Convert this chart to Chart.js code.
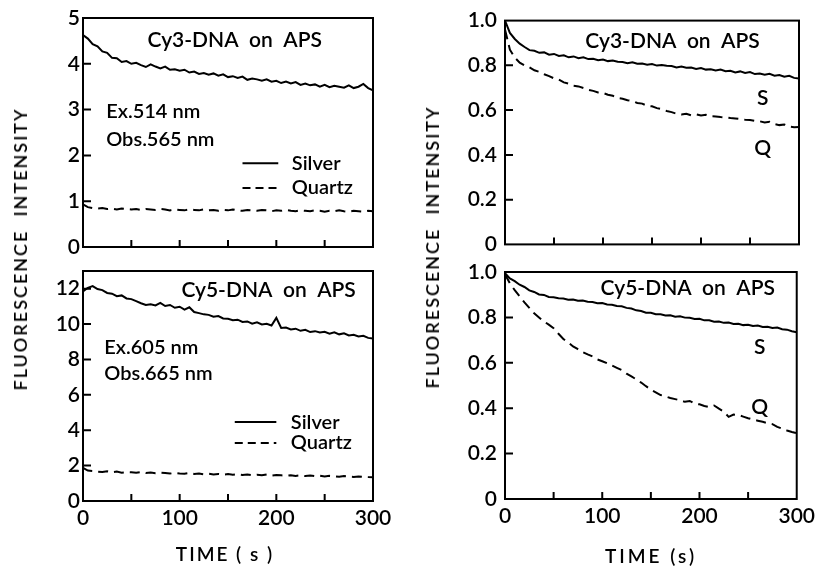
<!DOCTYPE html>
<html>
<head>
<meta charset="utf-8">
<script src="https://cdn.jsdelivr.net/npm/chart.js@4"></script>
<style>
  body { margin: 0; background: #fff; }
  #wrap { position: relative; width: 816px; height: 569px; overflow: hidden; font-family: Lato, "DejaVu Sans", sans-serif; font-weight: 600; color: #000; }
  canvas { position: absolute; }
  .ytitle { position: absolute; transform: translate(-50%, -50%) rotate(-90deg); white-space: pre; font-size: 18px; letter-spacing: 2px; }
  .xtitle { position: absolute; transform: translate(-50%, -50%); white-space: pre; font-size: 19px; }
</style>
</head>
<body>
<div id="wrap">
  <canvas id="c1" width="410" height="265" style="left:0;top:0"></canvas>
  <canvas id="c2" width="410" height="319" style="left:0;top:250px"></canvas>
  <canvas id="c3" width="400" height="265" style="left:420px;top:0"></canvas>
  <canvas id="c4" width="400" height="319" style="left:420px;top:250px"></canvas>
  <div class="ytitle" style="left:20px;top:249px">FLUORESCENCE  INTENSITY</div>
  <div class="ytitle" style="left:432px;top:247px">FLUORESCENCE  INTENSITY</div>
  <div class="xtitle" style="left:225px;top:553px;letter-spacing:2px">TIME ( s )</div>
  <div class="xtitle" style="left:651px;top:555px;letter-spacing:3px">TIME (s)</div>
</div>
<script>
// time axis (s), one reading every 5 s
const times = [0, 5, 10, 15, 20, 25, 30, 35, 40, 45,
  50, 55, 60, 65, 70, 75, 80, 85, 90, 95,
  100, 105, 110, 115, 120, 125, 130, 135, 140, 145,
  150, 155, 160, 165, 170, 175, 180, 185, 190, 195,
  200, 205, 210, 215, 220, 225, 230, 235, 240, 245,
  250, 255, 260, 265, 270, 275, 280, 285, 290, 295,
  300];

// left column: raw intensities
const cy3Silver = [4.63, 4.55, 4.43, 4.38, 4.27, 4.24, 4.13, 4.12, 4.04, 4.06,
  4.00, 4.02, 3.97, 3.93, 3.99, 3.94, 3.90, 3.94, 3.87, 3.88,
  3.85, 3.87, 3.81, 3.83, 3.78, 3.80, 3.76, 3.79, 3.74, 3.77,
  3.71, 3.73, 3.69, 3.72, 3.65, 3.68, 3.66, 3.63, 3.66, 3.61,
  3.63, 3.58, 3.61, 3.57, 3.60, 3.54, 3.57, 3.53, 3.55, 3.50,
  3.54, 3.49, 3.52, 3.50, 3.48, 3.53, 3.47, 3.50, 3.56, 3.47,
  3.42];
const cy3Quartz = [0.93, 0.87, 0.85, 0.84, 0.85, 0.83, 0.84, 0.82, 0.84, 0.83,
  0.82, 0.83, 0.81, 0.83, 0.82, 0.81, 0.83, 0.82, 0.80, 0.82,
  0.81, 0.80, 0.82, 0.81, 0.80, 0.82, 0.80, 0.81, 0.79, 0.81,
  0.80, 0.82, 0.80, 0.79, 0.81, 0.80, 0.79, 0.81, 0.80, 0.78,
  0.80, 0.79, 0.81, 0.79, 0.78, 0.80, 0.79, 0.78, 0.80, 0.79,
  0.77, 0.79, 0.78, 0.80, 0.78, 0.77, 0.79, 0.78, 0.77, 0.79,
  0.78];
const cy5Silver = [11.85, 12.05, 12.15, 11.98, 11.92, 11.76, 11.72, 11.58, 11.62, 11.45,
  11.41, 11.30, 11.18, 11.08, 11.12, 11.05, 11.20, 11.02, 11.08, 10.92,
  10.98, 10.82, 10.95, 10.68, 10.62, 10.55, 10.52, 10.42, 10.45, 10.32,
  10.30, 10.22, 10.25, 10.12, 10.15, 10.02, 10.10, 9.98, 10.02, 9.92,
  10.35, 9.78, 9.80, 9.70, 9.74, 9.62, 9.68, 9.55, 9.60, 9.52,
  9.56, 9.46, 9.54, 9.42, 9.48, 9.36, 9.40, 9.30, 9.34, 9.22,
  9.18];
const cy5Quartz = [1.88, 1.72, 1.70, 1.66, 1.64, 1.68, 1.62, 1.66, 1.60, 1.63,
  1.62, 1.60, 1.64, 1.58, 1.61, 1.57, 1.60, 1.58, 1.55, 1.59,
  1.56, 1.54, 1.58, 1.53, 1.55, 1.51, 1.54, 1.50, 1.53, 1.49,
  1.52, 1.48, 1.51, 1.47, 1.50, 1.46, 1.49, 1.45, 1.50, 1.44,
  1.47, 1.45, 1.43, 1.46, 1.42, 1.45, 1.41, 1.44, 1.40, 1.43,
  1.38, 1.42, 1.40, 1.37, 1.41, 1.38, 1.36, 1.39, 1.37, 1.35,
  1.34];

// right column: normalised intensities (S = silver, Q = quartz)
const cy3SilverNorm = [1.000, 0.945, 0.918, 0.897, 0.882, 0.868, 0.865, 0.856, 0.858, 0.848,
  0.851, 0.842, 0.845, 0.836, 0.840, 0.832, 0.836, 0.828, 0.829, 0.823,
  0.826, 0.819, 0.822, 0.816, 0.815, 0.810, 0.814, 0.807, 0.808, 0.803,
  0.806, 0.799, 0.802, 0.798, 0.797, 0.791, 0.795, 0.789, 0.790, 0.784,
  0.788, 0.781, 0.783, 0.777, 0.781, 0.774, 0.776, 0.768, 0.773, 0.766,
  0.770, 0.761, 0.764, 0.758, 0.762, 0.754, 0.757, 0.749, 0.753, 0.744,
  0.741];
const cy3QuartzNorm = [0.960, 0.870, 0.835, 0.812, 0.800, 0.791, 0.778, 0.771, 0.760, 0.752,
  0.742, 0.736, 0.724, 0.718, 0.709, 0.706, 0.699, 0.691, 0.686, 0.679,
  0.677, 0.669, 0.664, 0.654, 0.651, 0.644, 0.641, 0.632, 0.629, 0.619,
  0.617, 0.609, 0.604, 0.596, 0.591, 0.584, 0.580, 0.584, 0.577, 0.581,
  0.576, 0.579, 0.573, 0.572, 0.569, 0.568, 0.565, 0.563, 0.560, 0.557,
  0.556, 0.552, 0.550, 0.545, 0.548, 0.538, 0.533, 0.536, 0.527, 0.524,
  0.525];
const cy5SilverNorm = [0.995, 0.972, 0.960, 0.944, 0.934, 0.919, 0.912, 0.901, 0.899, 0.890,
  0.889, 0.884, 0.883, 0.878, 0.879, 0.873, 0.874, 0.869, 0.868, 0.862,
  0.863, 0.857, 0.856, 0.850, 0.849, 0.842, 0.839, 0.831, 0.828, 0.821,
  0.820, 0.814, 0.814, 0.808, 0.809, 0.803, 0.805, 0.799, 0.798, 0.793,
  0.794, 0.787, 0.787, 0.781, 0.782, 0.776, 0.777, 0.771, 0.772, 0.766,
  0.768, 0.762, 0.764, 0.758, 0.759, 0.753, 0.755, 0.748, 0.746, 0.739,
  0.735];
const cy5QuartzNorm = [0.990, 0.950, 0.920, 0.893, 0.866, 0.842, 0.818, 0.800, 0.782, 0.768,
  0.752, 0.728, 0.705, 0.690, 0.672, 0.660, 0.647, 0.637, 0.628, 0.615,
  0.607, 0.598, 0.588, 0.578, 0.568, 0.552, 0.540, 0.527, 0.513, 0.497,
  0.482, 0.470, 0.458, 0.452, 0.445, 0.440, 0.435, 0.428, 0.432, 0.420,
  0.417, 0.410, 0.405, 0.412, 0.398, 0.385, 0.362, 0.372, 0.370, 0.363,
  0.356, 0.350, 0.345, 0.340, 0.334, 0.330, 0.318, 0.310, 0.302, 0.295,
  0.290];

const FONT = 'Lato, "DejaVu Sans", sans-serif';

function pairs(values) {
  return values.map((v, i) => ({ x: times[i], y: v }));
}

// box around the plot, inward tick marks, and the text written inside the panel
function framePlugin(notes, keys) {
  return {
    id: 'frame',
    afterDatasetsDraw(chart) {
      const { ctx, chartArea: a } = chart;
      const x = chart.scales.x, y = chart.scales.y;
      ctx.save();
      ctx.strokeStyle = '#000';
      ctx.lineWidth = 2;
      ctx.strokeRect(a.left, a.top, a.right - a.left, a.bottom - a.top);
      ctx.beginPath();
      x.ticks.forEach(t => {
        const px = x.getPixelForValue(t.value);
        if (px <= a.left + 1 || px >= a.right - 1) return;
        ctx.moveTo(px, a.bottom);
        ctx.lineTo(px, a.bottom - 7);
      });
      y.ticks.forEach(t => {
        const py = y.getPixelForValue(t.value);
        if (py <= a.top + 1 || py >= a.bottom - 1) return;
        ctx.moveTo(a.left, py);
        ctx.lineTo(a.left + 8, py);
      });
      ctx.stroke();

      ctx.fillStyle = '#000';
      ctx.textBaseline = 'middle';
      notes.forEach(n => {
        ctx.font = '600 ' + (n.size || 20) + 'px ' + FONT;
        ctx.textAlign = n.align || 'left';
        ctx.fillText(n.text, x.getPixelForValue(n.x), y.getPixelForValue(n.y));
      });
      keys.forEach(k => {
        ctx.setLineDash(k.dash || []);
        ctx.beginPath();
        ctx.moveTo(x.getPixelForValue(k.x1), y.getPixelForValue(k.y));
        ctx.lineTo(x.getPixelForValue(k.x2), y.getPixelForValue(k.y));
        ctx.stroke();
      });
      ctx.restore();
    }
  };
}

function makeChart(id, c) {
  return new Chart(document.getElementById(id), {
    type: 'line',
    data: {
      datasets: [
        { data: pairs(c.silver), borderColor: '#000', borderWidth: 2, pointRadius: 0, tension: 0 },
        { data: pairs(c.quartz), borderColor: '#000', borderWidth: 2, borderDash: [10, 6], pointRadius: 0, tension: 0 }
      ]
    },
    options: {
      responsive: false,
      animation: false,
      layout: { padding: c.padding },
      plugins: { legend: { display: false }, tooltip: { enabled: false } },
      scales: {
        x: {
          type: 'linear', min: 0, max: 300,
          grid: { display: false, drawTicks: false },
          border: { display: false },
          ticks: {
            stepSize: 50, autoSkip: false, maxRotation: 0,
            display: c.xLabels, padding: 5, color: '#000',
            font: { family: FONT, size: 21, weight: 600 },
            callback: v => (v % 100 === 0 ? String(v) : '')
          },
          afterFit: s => { s.height = c.xHeight; }
        },
        y: {
          min: 0, max: c.yMax,
          grid: { display: false, drawTicks: false },
          border: { display: false },
          ticks: {
            stepSize: c.yStep, includeBounds: false, autoSkip: false,
            padding: c.yPad, color: '#000',
            font: { family: FONT, size: 21, weight: 600 },
            callback: c.yFormat
          },
          afterFit: s => { s.width = c.yWidth; }
        }
      }
    },
    plugins: [framePlugin(c.notes, c.keys)]
  });
}

const intFmt = v => String(v);
const decFmt = v => (v === 0 ? '0' : v.toFixed(1));

makeChart('c1', {
  silver: cy3Silver, quartz: cy3Quartz,
  yMax: 5, yStep: 1, yFormat: intFmt, yPad: 3, yWidth: 83,
  xLabels: false, xHeight: 0,
  padding: { top: 18, right: 37, bottom: 18, left: 0 },
  notes: [
    { text: 'Cy3-DNA  on  APS', x: 157, y: 4.52, align: 'center', size: 21 },
    { text: 'Ex.514 nm', x: 24, y: 2.95 },
    { text: 'Obs.565 nm', x: 24, y: 2.34 },
    { text: 'Silver', x: 216, y: 1.83 },
    { text: 'Quartz', x: 216, y: 1.29 }
  ],
  keys: [
    { x1: 165, x2: 202, y: 1.83 },
    { x1: 165, x2: 202, y: 1.29, dash: [8, 5] }
  ]
});

makeChart('c2', {
  silver: cy5Silver, quartz: cy5Quartz,
  yMax: 13, yStep: 2, yFormat: intFmt, yPad: 3, yWidth: 83,
  xLabels: true, xHeight: 68,
  padding: { top: 21, right: 37, bottom: 0, left: 0 },
  notes: [
    { text: 'Cy5-DNA  on  APS', x: 192, y: 11.92, align: 'center', size: 21 },
    { text: 'Ex.605 nm', x: 22, y: 8.7 },
    { text: 'Obs.665 nm', x: 22, y: 7.23 },
    { text: 'Silver', x: 215, y: 4.46 },
    { text: 'Quartz', x: 215, y: 3.28 }
  ],
  keys: [
    { x1: 157, x2: 200, y: 4.46 },
    { x1: 157, x2: 200, y: 3.28, dash: [8, 5] }
  ]
});

makeChart('c3', {
  silver: cy3SilverNorm, quartz: cy3QuartzNorm,
  yMax: 1, yStep: 0.2, yFormat: decFmt, yPad: 8, yWidth: 85,
  xLabels: false, xHeight: 0,
  padding: { top: 19, right: 21, bottom: 17, left: 0 },
  notes: [
    { text: 'Cy3-DNA  on  APS', x: 171, y: 0.908, align: 'center', size: 21 },
    { text: 'S', x: 263, y: 0.655, align: 'center', size: 21 },
    { text: 'Q', x: 263, y: 0.428, align: 'center', size: 21 }
  ],
  keys: []
});

makeChart('c4', {
  silver: cy5SilverNorm, quartz: cy5QuartzNorm,
  yMax: 1, yStep: 0.2, yFormat: decFmt, yPad: 8, yWidth: 85,
  xLabels: true, xHeight: 70,
  padding: { top: 22, right: 21, bottom: 0, left: 0 },
  notes: [
    { text: 'Cy5-DNA  on  APS', x: 188, y: 0.927, align: 'center', size: 21 },
    { text: 'S', x: 262, y: 0.668, align: 'center', size: 21 },
    { text: 'Q', x: 262, y: 0.404, align: 'center', size: 21 }
  ],
  keys: []
});
</script>
</body>
</html>
